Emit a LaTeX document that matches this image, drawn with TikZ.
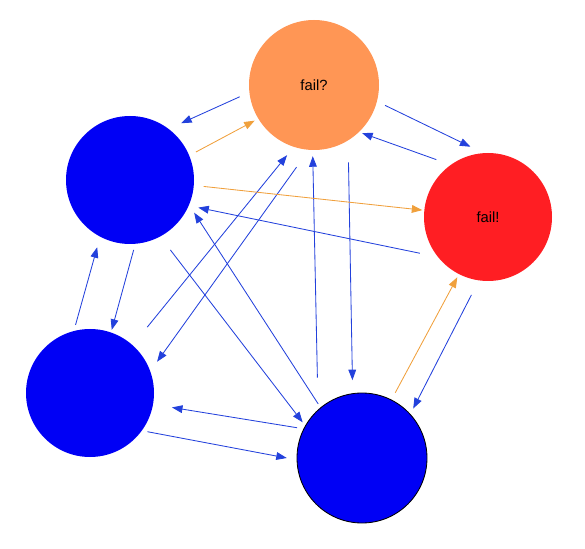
\documentclass[tikz,border=0pt]{standalone}
\usepackage{fontspec}
\setmainfont{Liberation Sans}
\usetikzlibrary{arrows.meta, positioning}
\definecolor{nodeblue}{RGB}{0,0,245}
\definecolor{failorange}{RGB}{255,150,85}
\definecolor{failred}{RGB}{255,30,35}
\definecolor{edgeblue}{RGB}{35,65,220}
\definecolor{edgeorange}{RGB}{240,160,60}

\begin{document}
\begin{tikzpicture}[
  peer/.style={circle, inner sep=0pt, minimum size=3.2cm, fill=nodeblue,
    font=\fontsize{10.5}{12}\selectfont},
  arrow/.style={-{Triangle[length=7.5pt,width=5.5pt]}, line width=0.6pt, edgeblue},
  warn/.style={arrow, edgeorange}
]
\useasboundingbox (0,0) rectangle (14.625,13.7);

% Peers
\node[peer, fill=failorange, minimum size=3.25cm] (fq) at (7.85,11.575) {fail?};
\node[peer] (pa) at (3.25,9.2) {};
\node[peer, fill=failred] (fr) at (12.2,8.275) {fail!};
\node[peer] (pb) at (2.25,3.875) {};
\node[peer, draw=black, line width=0.6pt, minimum size=3.25cm] (pc) at (9.05,2.25) {};

% Messages
\foreach \u/\a/\r/\v/\b/\s in {fq/189/1.88/pa/48/1.91, fq/-16/1.85/fr/104/1.81,
    fr/132/1.93/fq/-45/1.70, fr/208/1.93/pa/-22/1.84, pb/49/2.18/fq/249/1.88,
    fq/258/2.10/pb/25/1.85, pc/119/2.30/fq/269/1.78, fq/294/2.12/pc/97/1.96,
    pa/-60/2.02/pc/149/1.73, pc/129/1.74/pa/-27/1.80, pb/102/1.74/pa/244/1.87,
    pa/273/1.75/pb/71/1.67, pc/155/1.79/pb/-10/2.08, pb/-34/1.73/pc/180/1.88,
    fr/258/1.99/pc/44/1.78}
  \draw[arrow] ([shift={(\a:\r)}]\u.center) -- ([shift={(\b:\s)}]\v.center);

% Failure reports
\foreach \u/\a/\r/\v/\b/\s in {pa/23/1.79/fq/211/1.73, pa/-5/1.85/fr/174/1.65,
    pc/63/1.83/fr/243/1.69}
  \draw[warn] ([shift={(\a:\r)}]\u.center) -- ([shift={(\b:\s)}]\v.center);

\end{tikzpicture}
\end{document}
